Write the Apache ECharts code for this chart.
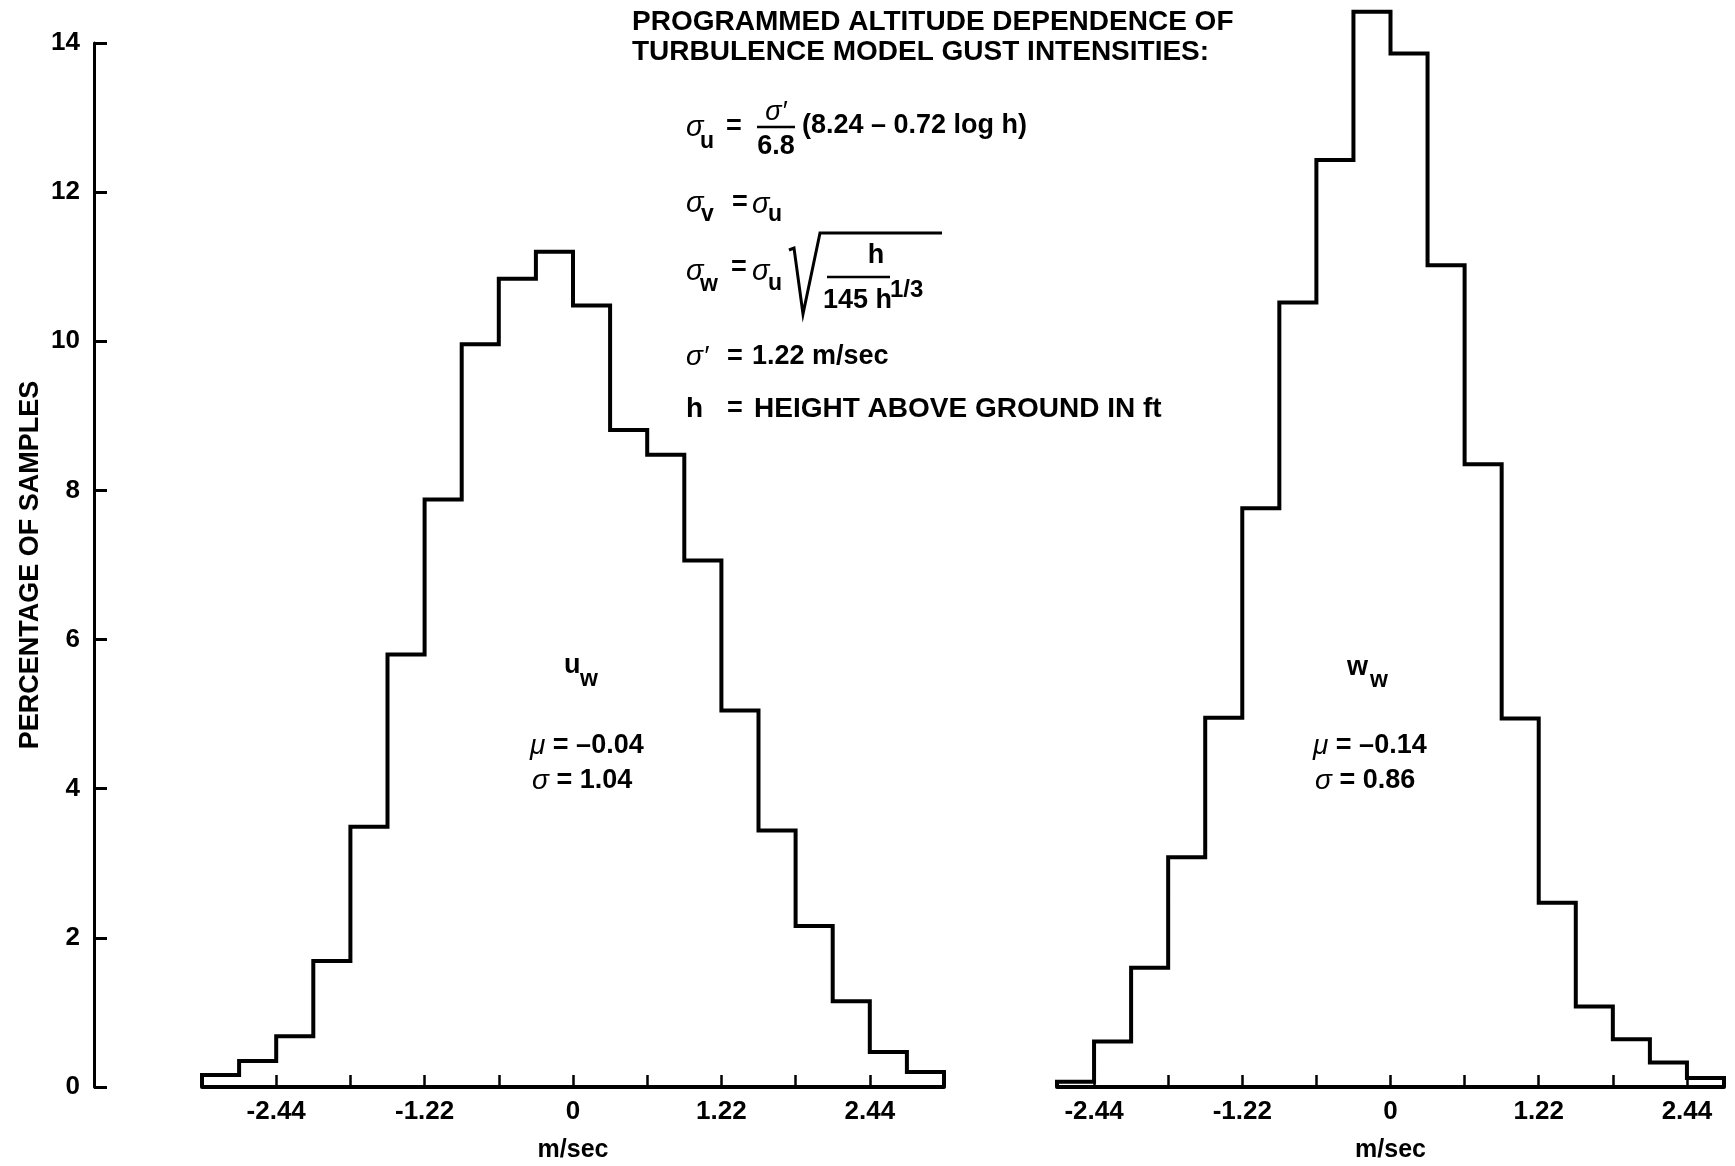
<!DOCTYPE html>
<html>
<head>
<meta charset="utf-8">
<title>Gust velocity histograms</title>
<script src="https://cdn.jsdelivr.net/npm/echarts@6/dist/echarts.min.js"></script>
<style>
  html, body { margin: 0; padding: 0; background: #ffffff; }
  #chart { width: 1735px; height: 1166px; }
</style>
</head>
<body>
<div id="chart"></div>
<script>
// Bin edges (m/sec) and percentage of samples per bin, longitudinal gust u_w
const uwEdges = [-3.05, -2.745, -2.44, -2.135, -1.83, -1.525, -1.22, -0.915, -0.61, -0.305, 0,
                 0.305, 0.61, 0.915, 1.22, 1.525, 1.83, 2.135, 2.44, 2.745, 3.05];
const uwPercent = [0.16, 0.35, 0.68, 1.69, 3.49, 5.80, 7.88, 9.96, 10.84, 11.20,
                   10.48, 8.81, 8.48, 7.06, 5.05, 3.44, 2.16, 1.15, 0.47, 0.20];

// Bin edges (m/sec) and percentage of samples per bin, vertical gust w_w
const wwEdges = [-2.745, -2.44, -2.135, -1.83, -1.525, -1.22, -0.915, -0.61, -0.305, 0,
                 0.305, 0.61, 0.915, 1.22, 1.525, 1.83, 2.135, 2.44, 2.745];
const wwPercent = [0.07, 0.61, 1.60, 3.08, 4.95, 7.76, 10.52, 12.43, 14.42,
                   13.86, 11.02, 8.35, 4.94, 2.47, 1.08, 0.64, 0.33, 0.12];

// Axis ticks and labels
const gustTicks = [-2.44, -1.83, -1.22, -0.61, 0, 0.61, 1.22, 1.83, 2.44];
const gustLabels = [-2.44, -1.22, 0, 1.22, 2.44];
const percentRange = [0, 14];
const percentStep = 2;

// Sample statistics printed in each panel
const uwStats = ['–0.04', '1.04'];
const wwStats = ['–0.14', '0.86'];

const FONT = '"Liberation Sans", Arial, Helvetica, sans-serif';

// Closed histogram outline: baseline -> each bin top -> baseline
function outline(edges, values) {
  const pts = [[edges[0], 0]];
  values.forEach(function (v, i) {
    pts.push([edges[i], v], [edges[i + 1], v]);
  });
  pts.push([edges[edges.length - 1], 0]);
  return pts;
}

const axisFont = { fontFamily: FONT, fontWeight: 'bold', color: '#000' };

function gustAxis(gridIndex, edges) {
  return {
    type: 'value', gridIndex: gridIndex,
    min: edges[0], max: edges[edges.length - 1],
    name: 'm/sec', nameLocation: 'middle', nameGap: 51,
    nameTextStyle: Object.assign({}, axisFont, { fontSize: 25 }),
    axisLine: { show: true, onZero: false, lineStyle: { color: '#000', width: 4 } },
    axisTick: { show: true, inside: true, length: 12, customValues: gustTicks,
                lineStyle: { color: '#000', width: 2.5 } },
    axisLabel: Object.assign({ show: true, margin: 12, customValues: gustLabels, fontSize: 26 }, axisFont),
    splitLine: { show: false }
  };
}

function histSeries(idx, edges, values) {
  return {
    type: 'line', xAxisIndex: idx, yAxisIndex: idx,
    data: outline(edges, values),
    showSymbol: false, symbol: 'none', clip: false, silent: true,
    lineStyle: { color: '#000', width: 4, join: 'miter' }
  };
}

// Text helpers for the annotation block
function txt(x, y, text, size, opts) {
  opts = opts || {};
  return {
    type: 'text', x: x, y: y, silent: true,
    style: {
      text: text, fill: '#000', fontFamily: FONT,
      fontSize: size,
      fontWeight: opts.italic ? 'normal' : 'bold',
      fontStyle: opts.italic ? 'italic' : 'normal',
      align: opts.align || 'left', verticalAlign: 'middle',
      textAlign: opts.align || 'left', textVerticalAlign: 'middle',
      rich: opts.rich
    }
  };
}
function rule(x1, y, x2, w) {
  return { type: 'line', silent: true, shape: { x1: x1, y1: y, x2: x2, y2: y },
           style: { stroke: '#000', lineWidth: w || 2.5 } };
}
const greek = { g: { fontFamily: FONT, fontStyle: 'italic', fontWeight: 'normal', fontSize: 28 } };

const graphics = [
  // heading
  txt(632, 22, 'PROGRAMMED ALTITUDE DEPENDENCE OF', 28),
  txt(632, 52, 'TURBULENCE MODEL GUST INTENSITIES:', 28),

  // sigma_u = sigma'/6.8 (8.24 - 0.72 log h)
  txt(686, 128, 'σ', 29, { italic: true }),
  txt(700, 142, 'u', 23),
  txt(726, 127, '=', 27),
  txt(776, 112, 'σ′', 27, { italic: true, align: 'center' }),
  rule(757, 127, 795),
  txt(776, 147, '6.8', 27, { align: 'center' }),
  txt(802, 126, '(8.24 – 0.72 log h)', 27),

  // sigma_v = sigma_u
  txt(686, 204, 'σ', 29, { italic: true }),
  txt(701, 215, 'v', 23),
  txt(732, 203, '=', 27),
  txt(752, 205, 'σ', 29, { italic: true }),
  txt(768, 215, 'u', 23),

  // sigma_w = sigma_u sqrt(h / 145 h^(1/3))
  txt(686, 272, 'σ', 29, { italic: true }),
  txt(700, 285, 'w', 23),
  txt(731, 268, '=', 27),
  txt(752, 272, 'σ', 29, { italic: true }),
  txt(768, 284, 'u', 23),
  { type: 'polyline', silent: true,
    shape: { points: [[789, 250], [794, 248], [803, 314], [820, 233], [942, 233]] },
    style: { stroke: '#000', fill: null, lineWidth: 3, lineJoin: 'miter' } },
  txt(876, 256, 'h', 27, { align: 'center' }),
  rule(827, 277, 890),
  txt(823, 301, '145 h', 27),
  txt(890, 290, '1/3', 24),

  // sigma' = 1.22 m/sec
  txt(686, 357, 'σ′', 28, { italic: true }),
  txt(727, 357, '=', 27),
  txt(752, 357, '1.22 m/sec', 27),

  // h = height above ground
  txt(686, 409, 'h', 28),
  txt(727, 409, '=', 27),
  txt(754, 409, 'HEIGHT ABOVE GROUND IN ft', 28),

  // panel labels and statistics
  txt(564, 666, 'u', 27),
  txt(580, 680, 'w', 23),
  txt(530, 746, '{g|μ} = ' + uwStats[0], 27, { rich: greek }),
  txt(532, 781, '{g|σ} = ' + uwStats[1], 27, { rich: greek }),

  txt(1347, 668, 'w', 27),
  txt(1370, 681, 'w', 23),
  txt(1313, 746, '{g|μ} = ' + wwStats[0], 27, { rich: greek }),
  txt(1315, 781, '{g|σ} = ' + wwStats[1], 27, { rich: greek })
];

const chart = echarts.init(document.getElementById('chart'), null, { renderer: 'canvas' });
chart.setOption({
  animation: false,
  backgroundColor: '#ffffff',
  grid: [
    { left: 202, right: 791, top: 43, bottom: 79, outerBoundsMode: 'none' },
    { left: 1057, right: 11, top: 43, bottom: 79, outerBoundsMode: 'none' }
  ],
  xAxis: [gustAxis(0, uwEdges), gustAxis(1, wwEdges)],
  yAxis: [
    {
      type: 'value', gridIndex: 0,
      min: percentRange[0], max: percentRange[1], interval: percentStep,
      offset: 108,
      name: 'PERCENTAGE OF SAMPLES', nameLocation: 'middle', nameRotate: 90, nameGap: 50,
      nameTextStyle: Object.assign({}, axisFont, { fontSize: 27 }),
      axisLine: { show: true, onZero: false, lineStyle: { color: '#000', width: 3 } },
      axisTick: { show: true, inside: true, length: 13, lineStyle: { color: '#000', width: 3 } },
      axisLabel: Object.assign({ margin: 14, fontSize: 26 }, axisFont),
      splitLine: { show: false }
    },
    {
      type: 'value', gridIndex: 1, show: false,
      min: percentRange[0], max: percentRange[1], interval: percentStep,
      axisLine: { onZero: false },
      splitLine: { show: false }
    }
  ],
  series: [
    histSeries(0, uwEdges, uwPercent),
    histSeries(1, wwEdges, wwPercent)
  ],
  graphic: graphics
});
</script>
</body>
</html>
